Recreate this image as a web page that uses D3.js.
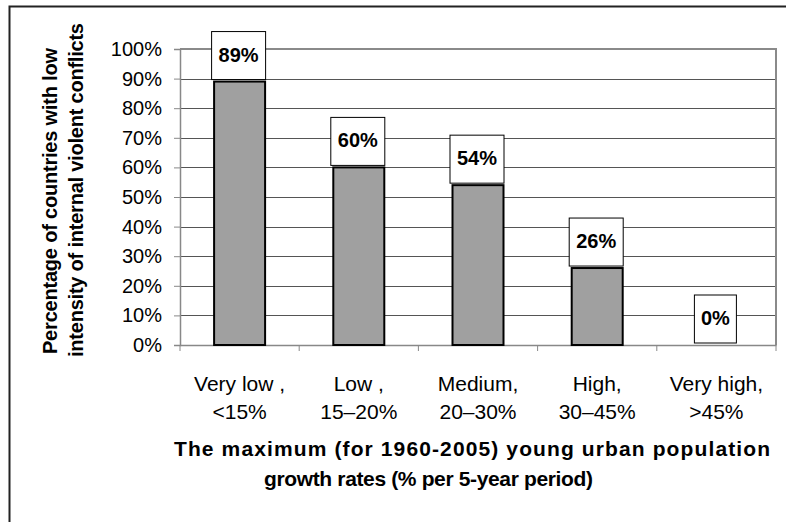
<!DOCTYPE html>
<html><head><meta charset="utf-8">
<script src="https://cdn.jsdelivr.net/npm/d3@7"></script>
<style>body{margin:0;background:#fff}svg{display:block}text{font-family:Arial,"Liberation Sans",sans-serif}</style>
</head><body>
<svg id="c" width="786" height="522"></svg>
<script>
const categoryLine1 = ["Very low ,", "Low ,", "Medium,", "High,", "Very high,"];
const categoryLine2 = ["<15%", "15–20%", "20–30%", "30–45%", ">45%"];
const values = [89, 60, 54, 26, 0];
const valueLabels = ["89%", "60%", "54%", "26%", "0%"];
const yTicks = [0,10,20,30,40,50,60,70,80,90,100];
const yTitle = ["Percentage of countries with low", "intensity of internal violent conflicts"];
const xTitle = ["The maximum (for 1960-2005) young urban population", "growth rates (% per 5-year period)"];

const FONT = "Arial,'Liberation Sans',sans-serif";
const svg = d3.select("#c");
const L = 180, R = 776, T = 49, B = 345;
svg.append("rect").attr("x",9.5).attr("y",6.5).attr("width",800).attr("height",600)
  .attr("fill","#fff").attr("stroke","#222").attr("stroke-width",2);

const x = d3.scaleBand().domain(d3.range(values.length)).range([L,R]);
const y = d3.scaleLinear().domain([0,100]).range([B,T]);

// gridlines
svg.append("g").selectAll("line").data(yTicks.filter(d=>d>0)).join("line")
  .attr("x1",L).attr("x2",R).attr("y1",d=>Math.round(y(d))+0.5).attr("y2",d=>Math.round(y(d))+0.5)
  .attr("stroke","#555").attr("stroke-width",1);
// plot border
svg.append("path").attr("d",`M${L},${T}H${R}V${B}`).attr("fill","none").attr("stroke","#8a8a8a").attr("stroke-width",2);

// y axis
const ya = svg.append("g").attr("transform",`translate(${L},0)`)
  .call(d3.axisLeft(y).tickValues(yTicks).tickFormat(d=>d+"%").tickSize(6).tickPadding(12));
ya.select(".domain").attr("stroke","#888").attr("stroke-width",1.5);
ya.selectAll(".tick line").attr("stroke","#888");
ya.selectAll("text").attr("font-size",20).attr("fill","#000").attr("font-family",FONT);

// x axis
const xa = svg.append("g").attr("transform",`translate(0,${B})`)
  .call(d3.axisBottom(x).tickValues([]).tickSize(0));
xa.select(".domain").attr("stroke","#888").attr("stroke-width",1.5);
svg.append("g").selectAll("line").data(d3.range(values.length+1)).join("line")
  .attr("x1",i=>L+i*x.step()).attr("x2",i=>L+i*x.step()).attr("y1",B).attr("y2",B+6)
  .attr("stroke","#888");

// bars
const bw = 51;
svg.append("g").selectAll("rect").data(values).join("rect")
  .attr("x",(d,i)=>x(i)+x.bandwidth()/2-bw/2).attr("width",bw)
  .attr("y",d=>y(d)).attr("height",d=>B-y(d))
  .attr("fill","#a0a0a0").attr("stroke","#000").attr("stroke-width",2)
  .style("display",d=>d>0?null:"none");

// value label boxes
const lg = svg.append("g").selectAll("g").data(values).join("g")
  .attr("transform",(d,i)=>`translate(${x(i)+x.bandwidth()/2-1},${y(d)-2})`);
lg.append("rect").attr("x",(d,i)=>valueLabels[i].length>2?-27:-21).attr("width",(d,i)=>valueLabels[i].length>2?54:42)
  .attr("y",-48).attr("height",48).attr("fill","#fff").attr("stroke","#000").attr("stroke-width",1);
lg.append("text").attr("y",-18).attr("text-anchor","middle").attr("font-size",20).attr("font-weight","bold")
  .text((d,i)=>valueLabels[i]);

// category labels
const cg = svg.append("g").selectAll("text").data(values).join("text")
  .attr("x",(d,i)=>x(i)+x.bandwidth()/2).attr("text-anchor","middle").attr("font-size",21);
cg.append("tspan").attr("x",(d,i)=>x(i)+x.bandwidth()/2).attr("y",391).text((d,i)=>categoryLine1[i]);
cg.append("tspan").attr("x",(d,i)=>x(i)+x.bandwidth()/2).attr("y",419).text((d,i)=>categoryLine2[i]);

// x title
const xtPos = [{x:174, y:456, w:596}, {x:264, y:486, w:329}];
svg.append("g").selectAll("text").data(xTitle).join("text")
  .attr("x",(d,i)=>xtPos[i].x).attr("y",(d,i)=>xtPos[i].y)
  .attr("textLength",(d,i)=>xtPos[i].w).attr("lengthAdjust","spacing")
  .attr("font-size",21).attr("font-weight","bold").text(d=>d);

// y title
const ytPos = [{x:57, y:354, w:306}, {x:83, y:357, w:334}];
svg.append("g").selectAll("text").data(yTitle).join("text")
  .attr("transform",(d,i)=>`translate(${ytPos[i].x},${ytPos[i].y}) rotate(-90)`)
  .attr("textLength",(d,i)=>ytPos[i].w).attr("lengthAdjust","spacing")
  .attr("font-size",20).attr("font-weight","bold").text(d=>d);
</script>
</body></html>
